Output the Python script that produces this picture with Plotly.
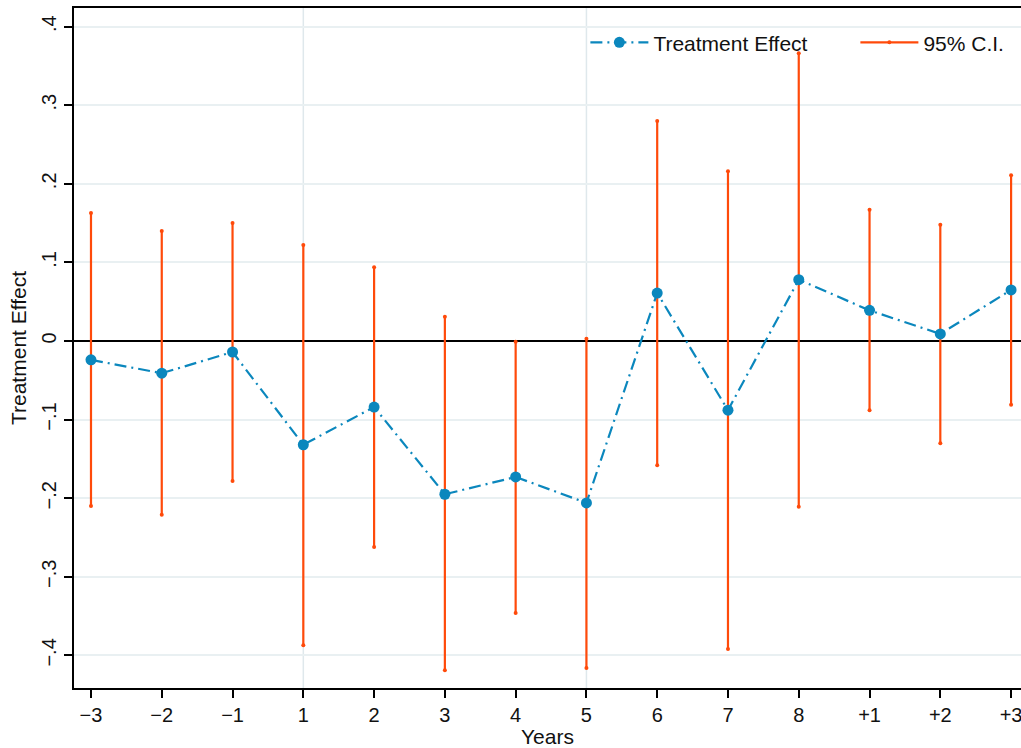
import plotly.graph_objects as go

# Event-time categories and estimates
years = ["−3", "−2", "−1", "1", "2", "3", "4", "5", "6", "7", "8", "+1", "+2", "+3"]
effect = [-0.024, -0.041, -0.014, -0.132, -0.084, -0.195, -0.173, -0.206,
          0.061, -0.088, 0.078, 0.039, 0.009, 0.065]
ci_low = [-0.210, -0.221, -0.178, -0.387, -0.262, -0.419, -0.346, -0.416,
          -0.158, -0.392, -0.211, -0.088, -0.130, -0.081]
ci_high = [0.163, 0.140, 0.150, 0.122, 0.094, 0.031, -0.001, 0.003,
           0.280, 0.216, 0.366, 0.167, 0.148, 0.211]
ref_years = ["1", "5"]

y_ticks = [-0.4, -0.3, -0.2, -0.1, 0, 0.1, 0.2, 0.3, 0.4]
y_tick_text = ["−.4", "−.3", "−.2", "−.1", "0", ".1", ".2", ".3", ".4"]

BLUE = "#0b87bd"
ORANGE = "#ff4a0a"
FONT = "Liberation Sans"

# Capped range segments, one per category
ci_x, ci_y = [], []
for yr, lo, hi in zip(years, ci_low, ci_high):
    ci_x += [yr, yr, None]
    ci_y += [lo, hi, None]

fig = go.Figure()
fig.add_trace(go.Scatter(
    x=ci_x, y=ci_y, mode="lines+markers", name="95% C.I.",
    line=dict(color=ORANGE, width=2.2),
    marker=dict(color=ORANGE, size=4, symbol="circle"),
    legendrank=2, connectgaps=False,
))
fig.add_trace(go.Scatter(
    x=years, y=effect, mode="lines+markers", name="Treatment Effect",
    line=dict(color=BLUE, width=2.2, dash="12px,5px,2px,5px"),
    marker=dict(color=BLUE, size=11),
    legendrank=1,
))

# Reference lines at selected years (category index positions)
for ref in ref_years:
    pos = years.index(ref)
    fig.add_shape(type="line", xref="x", yref="paper", x0=pos, x1=pos, y0=0, y1=1,
                  line=dict(color="#dfe8ec", width=1.5), layer="below")

fig.update_layout(
    width=1021, height=748,
    margin=dict(l=74, r=0, t=8, b=60, autoexpand=False),
    paper_bgcolor="white", plot_bgcolor="white",
    font=dict(family=FONT, size=20, color="#111111"),
    showlegend=True,
    legend=dict(orientation="h", x=0.54, y=0.949, xanchor="left", yanchor="middle",
                bgcolor="rgba(0,0,0,0)", font=dict(size=21), itemwidth=58,
                entrywidth=197, entrywidthmode="pixels"),
    xaxis=dict(
        type="category", categoryorder="array", categoryarray=years,
        range=[-0.24, 13.14], showgrid=False, zeroline=False, automargin=False,
        showline=True, linecolor="black", linewidth=1.8, mirror=True,
        ticks="outside", ticklen=8, tickwidth=1.5, tickcolor="black",
        tickfont=dict(size=20),
        title=dict(text="Years", font=dict(size=21), standoff=4),
    ),
    yaxis=dict(
        range=[-0.4415, 0.4237], tickvals=y_ticks, ticktext=y_tick_text,
        tickangle=-90, showgrid=True, gridcolor="#e9f0f2", gridwidth=1.5,
        zeroline=True, zerolinecolor="black", zerolinewidth=1.5, automargin=False,
        showline=True, linecolor="black", linewidth=1.8,
        ticks="outside", ticklen=8, tickwidth=1.5, tickcolor="black",
        tickfont=dict(size=20),
        title=dict(text="Treatment Effect", font=dict(size=21), standoff=6),
    ),
)

fig.write_html("out.html")
